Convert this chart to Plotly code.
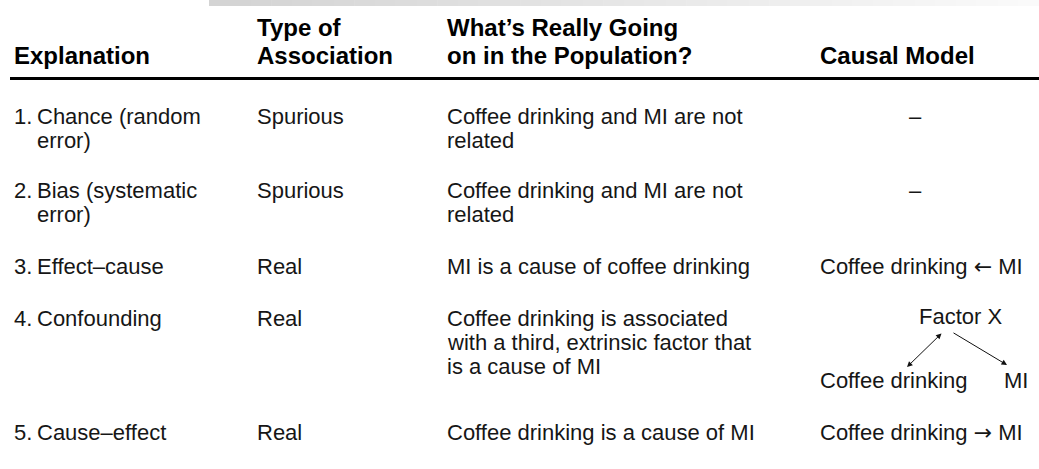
import plotly.graph_objects as go

# --- table content ---
headers = ["Explanation", "Type of\nAssociation",
           "What\u2019s Really Going\non in the Population?", "Causal Model"]
numbers = ["1.", "2.", "3.", "4.", "5."]
explanations = ["Chance (random\nerror)", "Bias (systematic\nerror)",
                "Effect\u2013cause", "Confounding", "Cause\u2013effect"]
association_types = ["Spurious", "Spurious", "Real", "Real", "Real"]
population = ["Coffee drinking and MI are not\nrelated",
              "Coffee drinking and MI are not\nrelated",
              "MI is a cause of coffee drinking",
              "Coffee drinking is associated\nwith a third, extrinsic factor that\nis a cause of MI",
              "Coffee drinking is a cause of MI"]
causal_models = ["\u2013", "\u2013", "Coffee drinking \u2190 MI", None,
                 "Coffee drinking \u2192 MI"]
confounder = "Factor X"
exposure = "Coffee drinking"
outcome = "MI"

W, H = 1039, 469
FONT = "Liberation Sans, Arial, sans-serif"
BODY = dict(family=FONT, size=22, color="#161616")
BOLD = dict(family=FONT, size=24, color="#000000", weight="bold")

col_x = [12, 255, 445, 818]
indent_x = 35
header_y = [27, 55]
row_y = [116, 190, 266, 318, 432]
pitch = 24

fig = go.Figure()
ann = []


def put(x, y, txt, font, xanchor="left"):
    ann.append(dict(x=x, y=y, xref="x", yref="y", text=txt, showarrow=False,
                    xanchor=xanchor, yanchor="middle", font=font))


def arrows(txt):
    # longer, thin arrows like the printed table
    for a in ("\u2190", "\u2192"):
        txt = txt.replace(a, f"<span style='font-family:DejaVu Sans'>{a}</span>")
    return txt


# headers (bottom aligned)
for cx, h in zip(col_x, headers):
    lines = h.split("\n")
    for k, line in enumerate(lines):
        put(cx, header_y[len(header_y) - len(lines) + k], line, BOLD)

# body rows
for i in range(len(numbers)):
    y0 = row_y[i]
    put(col_x[0], y0, numbers[i], BODY)
    for k, line in enumerate(explanations[i].split("\n")):
        put(indent_x, y0 + k * pitch, line, BODY)
    put(col_x[1], y0, association_types[i], BODY)
    for k, line in enumerate(population[i].split("\n")):
        put(col_x[2], y0 + k * pitch, line, BODY)
    cm = causal_models[i]
    if cm == "\u2013":
        put(915, y0, cm, BODY, xanchor="center")
    elif cm:
        put(col_x[3], y0, arrows(cm), BODY)

# confounding diagram in row 4
y4 = row_y[3]
put(960, y4 - 2, confounder, BODY, xanchor="center")
put(col_x[3], y4 + 62, exposure, BODY)
put(1030, y4 + 62, outcome, BODY, xanchor="right")
for (x1, y1, x0, y0, side) in [(907, y4 + 49, 943, y4 + 14, "end+start"),
                               (1007, y4 + 47, 952, y4 + 14, "end")]:
    ann.append(dict(x=x1, y=y1, ax=x0, ay=y0, xref="x", yref="y",
                    axref="x", ayref="y", text="", showarrow=True,
                    arrowhead=2, arrowside=side, arrowsize=1.1,
                    arrowwidth=1, arrowcolor="#111111"))

shapes = []
# faded grey band at the top (cropped page header)
n_steps = 40
x_start = 209
for s in range(n_steps):
    g = int(212 + (250 - 212) * s / (n_steps - 1))
    xa = x_start + (W - x_start) * s / n_steps
    xb = x_start + (W - x_start) * (s + 1) / n_steps
    shapes.append(dict(type="rect", x0=xa, x1=xb + 0.5, y0=0, y1=6,
                       xref="x", yref="y", line=dict(width=0),
                       fillcolor=f"rgb({g},{g},{g})", layer="below"))
# header rule
shapes.append(dict(type="line", x0=10, x1=W, y0=78.5, y1=78.5,
                   xref="x", yref="y", line=dict(color="black", width=3)))

fig.update_layout(
    width=W, height=H,
    margin=dict(l=0, r=0, t=0, b=0),
    paper_bgcolor="white", plot_bgcolor="white",
    xaxis=dict(range=[0, W], visible=False, fixedrange=True),
    yaxis=dict(range=[H, 0], visible=False, fixedrange=True),
    annotations=ann,
    shapes=shapes,
    showlegend=False,
)

fig.write_html("out.html", config={"displayModeBar": False},
               post_script="document.body.style.margin='0';")
